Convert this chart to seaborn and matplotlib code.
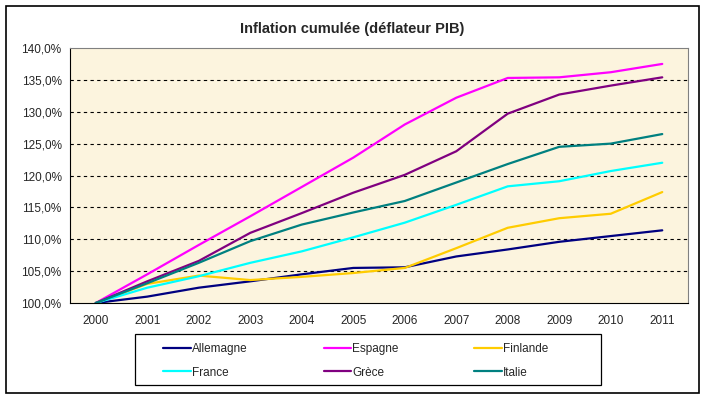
import numpy as np
import pandas as pd
import matplotlib
matplotlib.use("Agg")
import matplotlib.pyplot as plt
import seaborn as sns
from matplotlib.patches import Rectangle
from matplotlib.ticker import FixedLocator, FuncFormatter

# ------------------ Données ------------------
annees = ["2000", "2001", "2002", "2003", "2004", "2005",
          "2006", "2007", "2008", "2009", "2010", "2011"]
pays = ["Allemagne", "Espagne", "Finlande", "France", "Grèce", "Italie"]
couleurs = ["#000080", "#FF00FF", "#FFCC00", "#00FFFF", "#800080", "#008080"]

allemagne = [100.0, 101.0, 102.4, 103.4, 104.5, 105.5, 105.6, 107.3, 108.4, 109.6, 110.5, 111.4]
espagne = [100.0, 104.5, 109.1, 113.6, 118.2, 122.8, 128.0, 132.2, 135.3, 135.4, 136.2, 137.5]
finlande = [100.0, 103.0, 104.3, 103.6, 104.1, 104.7, 105.5, 108.6, 111.8, 113.3, 114.0, 117.4]
france = [100.0, 102.4, 104.2, 106.3, 108.1, 110.3, 112.6, 115.4, 118.3, 119.1, 120.7, 122.0]
grece = [100.0, 103.4, 106.6, 111.0, 114.1, 117.3, 120.1, 123.8, 129.7, 132.7, 134.1, 135.4]
italie = [100.0, 103.1, 106.3, 109.7, 112.3, 114.2, 116.0, 118.9, 121.8, 124.5, 125.0, 126.5]

series = [allemagne, espagne, finlande, france, grece, italie]

# ------------------ Table longue ------------------
rows = []
for nom, vals in zip(pays, series):
    for i, v in enumerate(vals):
        rows.append({"idx": i, "valeur": v, "pays": nom})
df = pd.DataFrame(rows)

# ------------------ Figure ------------------
sns.set_style("white")
plt.rcParams["font.family"] = ["Liberation Sans", "DejaVu Sans"]

fig = plt.figure(figsize=(7.05, 3.99), dpi=100)
ax = fig.add_axes([70 / 705, 1 - 303 / 399, 618 / 705, 255 / 399])

ax.set_facecolor("#FCF4DE")
sns.lineplot(data=df, x="idx", y="valeur", hue="pays", hue_order=pays,
             palette=couleurs, linewidth=1.6, ax=ax, legend=True)

ax.set_xlim(-0.5, 11.5)
ax.set_ylim(100, 140)

# axe x : graduations aux limites de catégories, étiquettes au centre
ax.xaxis.set_major_locator(FixedLocator(np.arange(len(annees))))
ax.set_xticklabels(annees)
ax.xaxis.set_minor_locator(FixedLocator(np.arange(-0.5, len(annees), 1.0)))
ax.tick_params(axis="x", which="major", length=0, pad=9, labelsize=8.5)
ax.tick_params(axis="x", which="minor", length=4, width=0.8, color="black", direction="out")

ax.set_yticks(np.arange(100, 141, 5))
ax.yaxis.set_major_formatter(FuncFormatter(lambda v, p: f"{v:.1f}%".replace(".", ",")))
ax.tick_params(axis="y", length=4, width=0.8, color="black", direction="out", labelsize=8.5, pad=2)

for y in np.arange(105, 140, 5):
    ax.axhline(y, color="black", linestyle=(0, (3, 3)), linewidth=0.8, zorder=0.5)

ax.set_xlabel("")
ax.set_ylabel("")
for s in ["top", "right"]:
    ax.spines[s].set_color("#808080")
    ax.spines[s].set_linewidth(0.8)
for s in ["left", "bottom"]:
    ax.spines[s].set_color("black")
    ax.spines[s].set_linewidth(0.8)

fig.text(0.5, 1 - 29 / 399, "Inflation cumulée (déflateur PIB)",
         ha="center", va="center", fontsize=10.5, fontweight="bold")

# légende : 2 lignes x 3 colonnes, remplie par colonne
handles, labels = ax.get_legend_handles_labels()
ax.get_legend().remove()
ordre = [0, 3, 1, 4, 2, 5]
leg = fig.legend([handles[i] for i in ordre], [labels[i] for i in ordre],
                 ncol=3, loc="center",
                 bbox_to_anchor=(356 / 705, 1 - 361 / 399),
                 frameon=False, fontsize=8.5,
                 handlelength=2.3, handletextpad=0.15, columnspacing=6.4,
                 labelspacing=0.95, borderpad=0.0)
for h in leg.get_lines():
    h.set_linewidth(1.6)

# cadre de la légende
fig.patches.append(Rectangle((135 / 705, 1 - 385 / 399), 466 / 705, 51 / 399,
                             transform=fig.transFigure, fill=False,
                             edgecolor="black", linewidth=0.9))

# cadre extérieur
fig.patches.append(Rectangle((6 / 705, 1 - 393 / 399), 693 / 705, 387 / 399,
                             transform=fig.transFigure, fill=False,
                             edgecolor="black", linewidth=1.2))

fig.savefig("out.png", dpi=100, facecolor="white")
